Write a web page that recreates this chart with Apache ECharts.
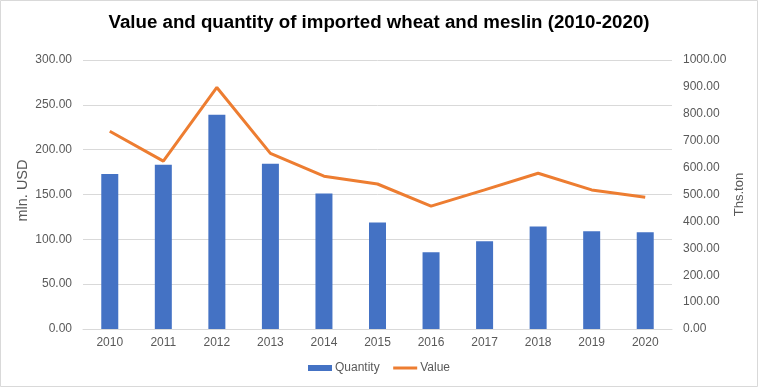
<!DOCTYPE html>
<html><head><meta charset="utf-8">
<script src="https://cdn.jsdelivr.net/npm/echarts@6/dist/echarts.min.js"></script>
<style>html,body{margin:0;padding:0;background:#fff}#c{width:758px;height:387px}</style>
</head><body><div id="c"></div>
<script>
const categories = ['2010','2011','2012','2013','2014','2015','2016','2017','2018','2019','2020'];
const quantity = [173, 183.3, 239, 184.4, 151.1, 118.9, 85.6, 97.8, 114.4, 108.9, 107.8];
const value = [735, 624, 898, 653, 568, 539, 457, 517, 579, 517, 490];
const chart = echarts.init(document.getElementById('c'));
const labelStyle = {color:'#595959', fontFamily:'Liberation Sans, Arial', fontSize:12};
chart.setOption({
  animation:false,
  backgroundColor:'#fff',
  graphic:[{type:'rect',shape:{x:0.5,y:0.5,width:757,height:386},style:{fill:'none',stroke:'#d9d9d9',lineWidth:1},silent:true}],
  title:{text:'Value and quantity of imported wheat and meslin (2010-2020)',left:'center',top:8,
    textStyle:{fontFamily:'Liberation Sans, Arial',fontWeight:'bold',fontSize:18.7,color:'#000'}},
  grid:{left:83,right:86,top:60,bottom:58},
  legend:{bottom:8,left:'center',itemWidth:24,itemHeight:6,itemGap:12,
    textStyle:Object.assign({padding:[0,0,0,-2]},labelStyle),
    data:[{name:'Quantity',icon:'rect'},{name:'Value',itemStyle:{opacity:0},lineStyle:{color:'#ED7D31',width:3}}]},
  xAxis:{type:'category',data:categories,
    axisLine:{lineStyle:{color:'#d9d9d9'}},axisTick:{show:false},
    axisLabel:Object.assign({margin:8},labelStyle)},
  yAxis:[
    {type:'value',min:0,max:300,interval:50,name:'mln. USD',nameLocation:'middle',nameGap:60,nameRotate:90,nameMoveOverlap:false,
      nameTextStyle:{color:'#595959',fontFamily:'Liberation Sans, Arial',fontSize:14.5,padding:[0,0,0,8],verticalAlign:'middle'},
      axisLabel:Object.assign({margin:11,formatter:v=>v.toFixed(2)},labelStyle),
      axisLine:{show:false},axisTick:{show:false},
      splitLine:{lineStyle:{color:'#d9d9d9'}}},
    {type:'value',min:0,max:1000,interval:100,name:'Ths.ton',nameLocation:'middle',nameGap:67,nameRotate:90,nameMoveOverlap:false,
      nameTextStyle:{color:'#595959',fontFamily:'Liberation Sans, Arial',fontSize:13,verticalAlign:'middle'},
      axisLabel:Object.assign({margin:11,formatter:v=>v.toFixed(2)},labelStyle),
      axisLine:{show:false},axisTick:{show:false},splitLine:{show:false}}
  ],
  series:[
    {name:'Quantity',type:'bar',yAxisIndex:0,data:quantity,barWidth:17,itemStyle:{color:'#4472C4'}},
    {name:'Value',type:'line',yAxisIndex:1,data:value,symbol:'none',lineStyle:{color:'#ED7D31',width:3},itemStyle:{color:'#ED7D31'}}
  ]
});
</script></body></html>
